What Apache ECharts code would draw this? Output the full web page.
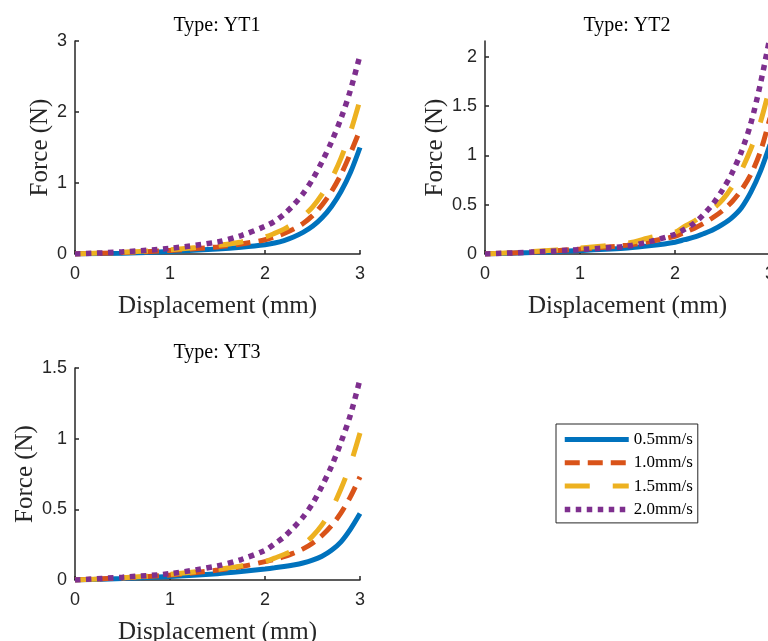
<!DOCTYPE html>
<html>
<head>
<meta charset="utf-8">
<script src="https://cdn.jsdelivr.net/npm/echarts@6/dist/echarts.min.js"></script>
<style>
  html, body { margin: 0; padding: 0; background: #fff; }
</style>
</head>
<body>
<div id="chart" style="width:768px;height:641px"></div>
<script>
// displacement (mm) sample points
var disp = [0, 0.5, 1, 1.5, 1.75, 2, 2.1, 2.2, 2.3, 2.4, 2.5, 2.6, 2.7, 2.8, 2.9, 3]

var speeds = ['0.5mm/s', '1.0mm/s', '1.5mm/s', '2.0mm/s']
var plotTitles = ['Type: YT1', 'Type: YT2', 'Type: YT3']

// force (N), Type YT1
var yt1_05 = [0, 0.012, 0.035, 0.07, 0.095, 0.13, 0.155, 0.19, 0.24, 0.305, 0.39, 0.51, 0.67, 0.88, 1.15, 1.50]
var yt1_10 = [0, 0.02, 0.05, 0.10, 0.14, 0.20, 0.24, 0.29, 0.35, 0.43, 0.54, 0.69, 0.88, 1.12, 1.42, 1.75]
var yt1_15 = [0, 0.025, 0.06, 0.12, 0.17, 0.24, 0.29, 0.35, 0.43, 0.53, 0.66, 0.84, 1.06, 1.35, 1.72, 2.17]
var yt1_20 = [0, 0.03, 0.08, 0.17, 0.26, 0.39, 0.46, 0.56, 0.69, 0.85, 1.05, 1.30, 1.58, 1.91, 2.31, 2.80]

// force (N), Type YT2
var yt2_05 = [0, 0.015, 0.035, 0.06, 0.085, 0.12, 0.145, 0.17, 0.205, 0.245, 0.30, 0.37, 0.47, 0.63, 0.84, 1.11]
var yt2_10 = [0, 0.02, 0.05, 0.09, 0.13, 0.18, 0.22, 0.26, 0.31, 0.37, 0.44, 0.53, 0.65, 0.81, 1.04, 1.38]
var yt2_15 = [0, 0.025, 0.06, 0.11, 0.17, 0.22, 0.28, 0.33, 0.40, 0.46, 0.55, 0.68, 0.85, 1.07, 1.34, 1.70]
var yt2_20 = [0, 0.02, 0.045, 0.08, 0.13, 0.20, 0.25, 0.31, 0.40, 0.51, 0.65, 0.82, 1.04, 1.33, 1.73, 2.20]

// force (N), Type YT3
var yt3_05 = [0, 0.01, 0.025, 0.045, 0.06, 0.078, 0.086, 0.095, 0.106, 0.12, 0.14, 0.168, 0.21, 0.27, 0.36, 0.47]
var yt3_10 = [0, 0.015, 0.035, 0.07, 0.095, 0.13, 0.145, 0.165, 0.19, 0.22, 0.26, 0.315, 0.385, 0.475, 0.59, 0.73]
var yt3_15 = [0, 0.015, 0.04, 0.075, 0.10, 0.13, 0.155, 0.18, 0.21, 0.25, 0.31, 0.39, 0.50, 0.645, 0.82, 1.04]
var yt3_20 = [0, 0.02, 0.045, 0.10, 0.145, 0.21, 0.255, 0.305, 0.37, 0.445, 0.54, 0.665, 0.805, 0.975, 1.17, 1.42]

// axis ticks
var yTicks1 = [0, 1, 2, 3]
var yTicks2 = [0, 0.5, 1, 1.5, 2]
var yTicks3 = [0, 0.5, 1, 1.5]
var xTicks = [0, 1, 2, 3]

var allData = [
  [yt1_05, yt1_10, yt1_15, yt1_20],
  [yt2_05, yt2_10, yt2_15, yt2_20],
  [yt3_05, yt3_10, yt3_15, yt3_20]
]

var colors = ['#0072BD', '#D95319', '#EDB120', '#7E2F8E']
var lineStyles = [
  { width: 5, type: 'solid' },
  { width: 5, type: [15, 8] },
  { width: 5, type: [25, 23] },
  { width: 5.5, type: [5.5, 5.5] }
]

var axisColor = '#262626'
var tickFont = 'Liberation Sans, Arial, sans-serif'
var serifFont = 'Liberation Serif, Times New Roman, serif'

function zip(xs, ys) {
  return xs.map(function(x, i) { return [x, ys[i]] })
}

function xAxisFor(idx) {
  return {
    type: 'value',
    gridIndex: idx,
    min: 0,
    max: 3,
    interval: 1,
    name: 'Displacement (mm)',
    nameLocation: 'middle',
    nameGap: 40,
    nameTextStyle: { fontFamily: serifFont, fontSize: 25, color: axisColor },
    axisLine: { onZero: false, lineStyle: { color: axisColor, width: 1.5 }},
    axisTick: { inside: true, length: 4, lineStyle: { color: axisColor, width: 1.5 }, customValues: xTicks },
    axisLabel: { margin: 11, fontFamily: tickFont, fontSize: 18, color: axisColor, customValues: xTicks },
    splitLine: { show: false }
  }
}

function yAxisFor(idx, max, ticks) {
  return {
    type: 'value',
    gridIndex: idx,
    min: 0,
    max: max,
    name: 'Force (N)',
    nameLocation: 'middle',
    nameGap: 20,
    nameTextStyle: { fontFamily: serifFont, fontSize: 25, color: axisColor },
    axisLine: { show: true, onZero: false, lineStyle: { color: axisColor, width: 1.5 }},
    axisTick: { show: true, inside: true, length: 4, lineStyle: { color: axisColor, width: 1.5 }, customValues: ticks },
    axisLabel: { margin: 8, fontFamily: tickFont, fontSize: 18, color: axisColor, customValues: ticks },
    splitLine: { show: false }
  }
}

var series = []
allData.forEach(function(panel, p) {
  panel.forEach(function(vals, s) {
    series.push({
      name: speeds[s],
      type: 'line',
      xAxisIndex: p,
      yAxisIndex: p,
      data: zip(disp, vals),
      smooth: 0.3,
      symbol: 'none',
      animation: false,
      lineStyle: { color: colors[s], width: lineStyles[s].width, type: lineStyles[s].type, cap: 'butt' },
      itemStyle: { color: colors[s] }
    })
  })
})

var legendData = speeds.map(function(name, s) {
  return {
    name: name,
    itemStyle: { opacity: 0 },
    lineStyle: { color: colors[s], width: lineStyles[s].width, type: lineStyles[s].type }
  }
})

var chart = echarts.init(document.getElementById('chart'))

chart.setOption({
  animation: false,
  grid: [
    { left: 75, top: 41, width: 285, height: 213, outerBoundsMode: 'none' },
    { left: 485, top: 41, width: 285, height: 213, outerBoundsMode: 'none' },
    { left: 75, top: 368, width: 285, height: 212, outerBoundsMode: 'none' }
  ],
  xAxis: [xAxisFor(0), xAxisFor(1), xAxisFor(2)],
  yAxis: [
    yAxisFor(0, 3, yTicks1),
    yAxisFor(1, 2.16, yTicks2),
    yAxisFor(2, 1.5, yTicks3)
  ],
  legend: {
    data: legendData,
    orient: 'vertical',
    left: 556,
    top: 424,
    itemWidth: 64,
    itemHeight: 14,
    itemGap: 6.3,
    itemTextGap: 4,
    padding: [7, 5, 5, 6],
    borderColor: axisColor,
    borderWidth: 1,
    backgroundColor: '#fff',
    textStyle: { fontFamily: serifFont, fontSize: 17, color: '#000' }
  },
  graphic: [
    { type: 'text', x: 217, y: 26, style: { text: plotTitles[0], align: 'center', verticalAlign: 'middle', fontFamily: serifFont, fontSize: 20, fill: '#000' }},
    { type: 'text', x: 627, y: 26, style: { text: plotTitles[1], align: 'center', verticalAlign: 'middle', fontFamily: serifFont, fontSize: 20, fill: '#000' }},
    { type: 'text', x: 217, y: 353, style: { text: plotTitles[2], align: 'center', verticalAlign: 'middle', fontFamily: serifFont, fontSize: 20, fill: '#000' }}
  ],
  series: series
})
</script>
</body>
</html>
